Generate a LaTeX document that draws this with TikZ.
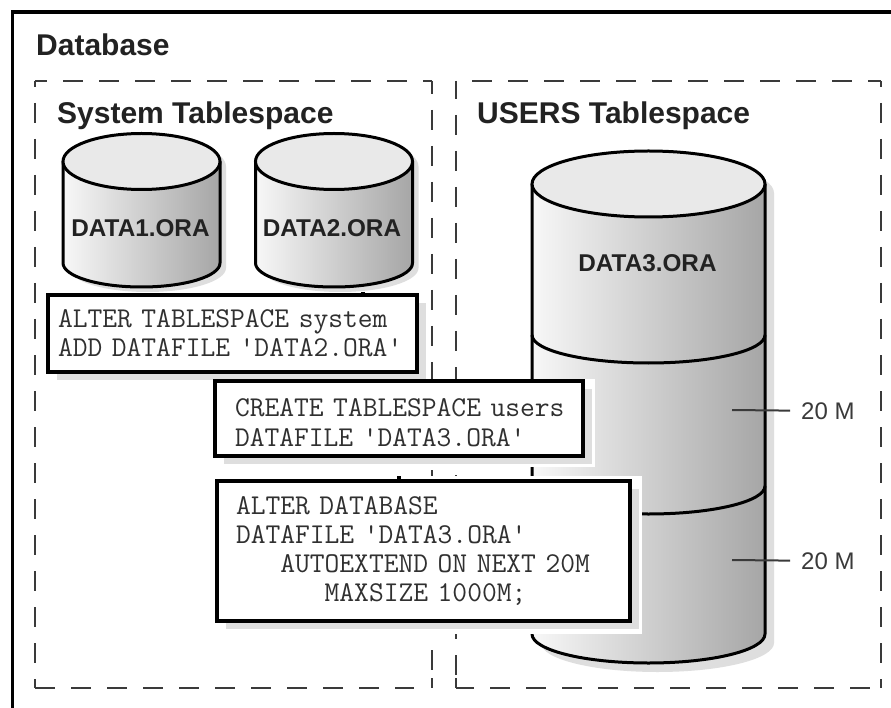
\documentclass[tikz,border=0pt]{standalone}
\usepackage{fontspec}
\setmainfont{Liberation Sans}
\usetikzlibrary{shadows}
\definecolor{shadowgray}{HTML}{DEDEDE}
\definecolor{topgray}{HTML}{E9E9E9}
\definecolor{darkline}{HTML}{3A3A3A}
\definecolor{cmdtext}{HTML}{303030}
\definecolor{labeltext}{HTML}{222222}
\tikzset{
  dashline/.style={darkline,line width=2pt,dash pattern=on 20pt off 16pt},
  cylline/.style={black,line width=3pt},
  cylbody/.style={left color=black!3,middle color=black!15,right color=black!35},
  titletext/.style={anchor=base west,inner sep=0pt,text=labeltext,font=\fontsize{30}{32}\selectfont\bfseries},
  filetext/.style={inner sep=0pt,text=labeltext,font=\fontsize{24.3}{26}\selectfont\bfseries},
  sizetext/.style={anchor=base west,inner sep=0pt,text=darkline,font=\fontsize{24}{26}\selectfont},
  cmdbox/.style={draw=black,line width=4pt,fill=white,align=left,inner ysep=0pt,text=cmdtext,
    font=\fontsize{28.7}{29}\selectfont\ttfamily,
    drop shadow={shadow xshift=9pt,shadow yshift=-8pt,fill=shadowgray,opacity=1}},
}

\begin{document}
\begin{tikzpicture}[x=1pt,y=-1pt]
        \def\Ar{78.5 } % Radius of the small cylinders
        \def\Ay{28   } % Ellipse second radius, top
        \def\Ab{24   } % Ellipse second radius, base
        \def\At{161.5} % Top level
        \def\Ah{263  } % Base level
        \def\Ax{141.5} % First centre
        \def\Bx{334  } % Second centre

        \def\Cr{116.5 } % Radius of the big cylinder
        \def\Cy{33   } % Ellipse second radius, top
        \def\Cb{29   } % Ellipse second radius, base
        \def\Ct{184  } % Top level
        \def\Ch{634  } % Base level
        \def\Cx{648.5} % Centre

        \useasboundingbox (0,0) rectangle (891,708);
        \fill[white] (0,0) rectangle (891,708);

        % Database frame
        \draw[black,line width=3.5pt] (12.5,708) -- (12.5,12) -- (891,12);
        \node[titletext] (database) at (36,56) {Database};

        % System tablespace frame
        \draw[dashline,dash phase=8]  ( 35, 81) -- (432, 81);
        \draw[dashline,dash phase=14] ( 35, 81) -- ( 35,688);
        \draw[dashline]               ( 35,688) -- (414,688);
        \draw[dashline,dash phase=7]  (432, 81) -- (432,671);
        \draw[darkline,line width=2pt] (432,678) -- (432,688);
        \node[titletext] (systemtitle) at (57,124) {System Tablespace};

        % Users tablespace frame
        \draw[dashline,dash phase=20] (456, 81) -- (881, 81);
        \draw[dashline,dash phase=2]  (456, 81) -- (456,676);
        \draw[darkline,line width=2pt] (456,678) -- (456,688);
        \draw[dashline,dash phase=2]  (456,688) -- (871,688);
        \draw[dashline,dash phase=14] (881, 81) -- (881,688);
        \node[titletext] (userstitle) at (477,124) {USERS Tablespace};

        % First cylinder
        \fill[shadowgray,shift={(6,5)}] (\Ax-\Ar,\At) -- (\Ax-\Ar,\Ah) arc (180:0:\Ar and \Ab) -- (\Ax+\Ar,\At) arc (0:-180:\Ar and \Ay);
        \shade[cylbody] (\Ax-\Ar,\At) -- (\Ax-\Ar,\Ah) arc (180:0:\Ar and \Ab) -- (\Ax+\Ar,\At) -- cycle;
        \draw[cylline] (\Ax-\Ar,\At) -- (\Ax-\Ar,\Ah) arc (180:0:\Ar and \Ab) -- (\Ax+\Ar,\At);
        \draw[cylline,fill=topgray] (\Ax,\At) ellipse [x radius=\Ar, y radius=\Ay]; % top
        \node[filetext] (dataone) at (\Ax-1,228) {DATA1.ORA};

        % Second cylinder
        \fill[shadowgray,shift={(6,5)}] (\Bx-\Ar,\At) -- (\Bx-\Ar,\Ah) arc (180:0:\Ar and \Ab) -- (\Bx+\Ar,\At) arc (0:-180:\Ar and \Ay);
        \shade[cylbody] (\Bx-\Ar,\At) -- (\Bx-\Ar,\Ah) arc (180:0:\Ar and \Ab) -- (\Bx+\Ar,\At) -- cycle;
        \draw[cylline] (\Bx-\Ar,\At) -- (\Bx-\Ar,\Ah) arc (180:0:\Ar and \Ab) -- (\Bx+\Ar,\At);
        \draw[cylline,fill=topgray] (\Bx,\At) ellipse [x radius=\Ar, y radius=\Ay]; % top
        \node[filetext] (datatwo) at (\Bx-2,228) {DATA2.ORA};

        % Big cylinder
        \fill[shadowgray,shift={(9,9)}] (\Cx-\Cr,\Ct) -- (\Cx-\Cr,\Ch) arc (180:0:\Cr and \Cb) -- (\Cx+\Cr,\Ct) arc (0:-180:\Cr and \Cy);
        \shade[cylbody] (\Cx-\Cr,\Ct) -- (\Cx-\Cr,\Ch) arc (180:0:\Cr and \Cb) -- (\Cx+\Cr,\Ct) -- cycle;
        \draw[cylline] (\Cx-\Cr,\Ct) -- (\Cx-\Cr,\Ch) arc (180:0:\Cr and \Cb) -- (\Cx+\Cr,\Ct);
        \draw[cylline] (\Cx-\Cr,335) arc (180:0:\Cr and 28); % first extent
        \draw[cylline] (\Cx-\Cr,486) arc (180:0:\Cr and 28); % second extent
        \draw[cylline,fill=topgray] (\Cx,\Ct) ellipse [x radius=\Cr, y radius=\Cy]; % top
        \node[filetext] (datathree) at (\Cx-1,263) {DATA3.ORA};

        % Statements
        \draw[black,line width=4pt] (363,292) -- (363,296);
        \node[cmdbox,minimum width=369pt,minimum height=77pt,text width=349pt,inner xsep=10pt] (alterts) at (232.5,333.5)
             {ALTER TABLESPACE system\\ADD DATAFILE 'DATA2.ORA'};

        \fill[white] (215,379) rectangle (595,467);
        \node[cmdbox,minimum width=368pt,minimum height=75pt,text width=328pt,inner xsep=20pt] (createts) at (399,418.5)
             {\rule{0pt}{26pt}\mbox{CREATE TABLESPACE users}\\[1pt]DATAFILE 'DATA3.ORA'};

        \fill[white] (217,476) rectangle (642,634);
        \draw[black,line width=4pt] (399,476) -- (399,482);
        \node[cmdbox,minimum width=413pt,minimum height=140pt,text width=375pt,inner xsep=19pt] (alterdb) at (423.5,551)
             {ALTER DATABASE\\DATAFILE 'DATA3.ORA'\\\phantom{AAA}AUTOEXTEND ON NEXT 20M\\\phantom{AAAAAA}MAXSIZE 1000M;};

        % Extent sizes
        \coordinate (tickone) at (732,410);
        \coordinate (ticktwo) at (732,560);
        \node[sizetext] (sizeone) at (801,419) {20 M};
        \node[sizetext] (sizetwo) at (801,569) {20 M};
        \draw[darkline,line width=2pt,shorten >=11pt] (tickone) -- (sizeone.west);
        \draw[darkline,line width=2pt,shorten >=11pt] (ticktwo) -- (sizetwo.west);
\end{tikzpicture}
\end{document}
